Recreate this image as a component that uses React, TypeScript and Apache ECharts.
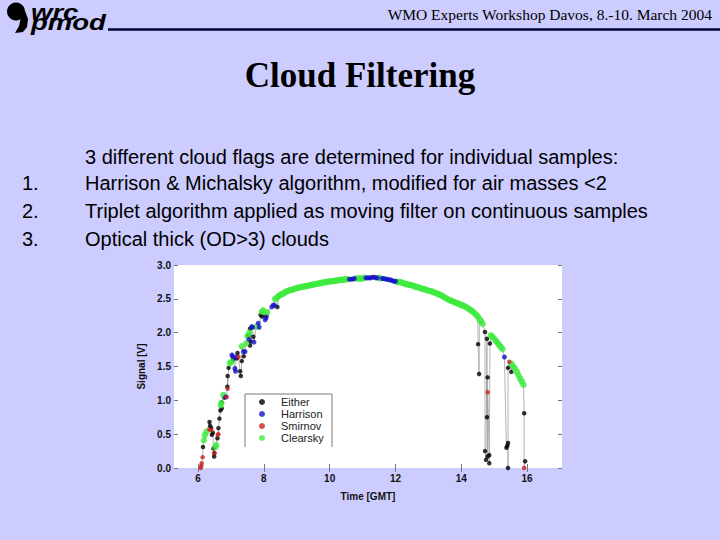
import React, { useEffect, useRef } from "react";
import * as echarts from "echarts";

// ---- data ----
const xTicks = [6, 8, 10, 12, 14, 16];
const yTicks = [0, 0.5, 1.0, 1.5, 2.0, 2.5, 3.0];
const X_MIN = 5.27;
const X_MAX = 17.06;
const legendNames = ["Either", "Harrison", "Smirnov", "Clearsky"];

const either: number[][] = [
  [6.15, 0.31], [6.35, 0.68], [6.37, 0.62], [6.4, 0.59], [6.42, 0.49], [6.45, 0.52], [6.47, 0.29],
  [6.49, 0.17], [6.5, 0.22], [6.59, 0.44], [6.62, 0.59], [6.65, 0.73], [6.68, 0.85], [6.72, 0.88],
  [6.72, 0.97], [6.8, 1.04], [6.89, 1.2], [6.9, 1.36], [6.93, 1.48], [7.07, 1.6], [7.18, 1.62],
  [7.2, 1.7], [7.28, 1.43], [7.3, 1.36], [7.33, 1.58], [7.39, 1.65], [7.53, 1.96], [7.58, 1.81],
  [7.6, 1.87], [7.58, 2.06], [7.68, 1.94], [7.9, 2.26], [7.95, 2.24], [8.08, 2.25], [8.41, 2.38],
  [14.51, 1.83], [14.54, 1.39], [14.72, 2.01], [14.78, 1.91], [14.87, 1.84], [14.8, 1.34],
  [14.78, 0.75], [14.72, 0.25], [14.85, 0.19], [14.75, 0.12], [14.85, 0.07], [14.8, 0.17],
  [15.37, 0.3], [15.4, 0.33], [15.42, 0.37], [15.42, 0.0], [15.42, 1.48], [15.52, 1.42],
  [15.91, 0.81], [15.94, 0.1],
];

const harrison: number[][] = [
  [6.84, 1.05], [7.03, 1.67], [7.05, 1.65], [7.12, 1.47], [7.14, 1.43], [7.16, 1.64], [7.38, 1.72],
  [7.43, 1.72], [7.55, 1.9], [7.63, 2.09], [7.66, 2.08], [7.7, 1.86], [7.83, 2.14], [7.86, 2.08],
  [8.04, 2.19], [8.07, 2.22], [8.24, 2.38], [8.29, 2.41], [8.33, 2.4],
  [10.6, 2.79], [10.65, 2.79], [10.7, 2.79], [10.75, 2.8], [11.1, 2.81], [11.15, 2.81], [11.2, 2.81],
  [11.25, 2.81], [11.3, 2.82], [11.35, 2.82], [11.4, 2.81], [11.45, 2.81], [11.6, 2.8], [11.65, 2.8],
  [11.7, 2.79], [11.75, 2.79], [11.8, 2.78], [11.85, 2.78], [11.9, 2.77], [11.95, 2.76], [12.0, 2.76],
  [15.31, 1.64],
];

const smirnov: number[][] = [
  [6.08, 0.0], [6.1, 0.03], [6.11, 0.07], [6.14, 0.16], [6.35, 0.57], [6.4, 0.56], [6.49, 0.22],
  [6.6, 0.49], [6.62, 0.5], [6.87, 1.05], [6.9, 1.17], [7.23, 1.64], [14.8, 1.12], [15.46, 1.57],
  [15.91, 0.0],
];

const clearsky: number[][] = [
  [6.18, 0.41], [6.21, 0.49], [6.26, 0.54], [6.53, 0.31], [6.55, 0.34], [6.69, 0.93], [6.71, 0.96],
  [6.77, 1.08], [6.97, 1.55], [7.02, 1.57], [7.33, 1.8], [7.46, 1.84], [7.5, 1.95], [7.56, 2.0],
  [7.77, 2.09], [7.94, 2.31], [7.98, 2.33], [8.1, 2.3], [8.34, 2.5],
  [8.4, 2.52], [8.45, 2.54], [8.5, 2.56], [8.55, 2.57], [8.6, 2.58], [8.65, 2.6], [8.7, 2.61],
  [8.75, 2.62], [8.8, 2.63], [8.85, 2.635], [8.9, 2.64], [8.95, 2.65],
  [9.0, 2.66], [9.05, 2.665], [9.1, 2.67], [9.15, 2.675], [9.2, 2.68], [9.25, 2.685], [9.3, 2.69],
  [9.35, 2.695], [9.4, 2.7], [9.45, 2.705], [9.5, 2.71], [9.55, 2.715], [9.6, 2.72], [9.65, 2.725],
  [9.7, 2.73], [9.75, 2.735], [9.8, 2.74], [9.85, 2.745], [9.9, 2.75], [9.95, 2.755], [10.0, 2.76],
  [10.05, 2.76], [10.1, 2.76], [10.15, 2.765], [10.2, 2.77], [10.25, 2.775], [10.3, 2.78],
  [10.35, 2.78], [10.4, 2.78], [10.45, 2.785], [10.5, 2.79], [10.55, 2.79],
  [10.8, 2.8], [10.85, 2.8], [10.9, 2.8], [10.95, 2.8], [11.0, 2.8], [11.05, 2.81], [11.5, 2.81],
  [11.55, 2.8],
  [12.05, 2.75], [12.1, 2.75], [12.15, 2.745], [12.2, 2.74], [12.25, 2.73], [12.3, 2.72],
  [12.35, 2.715], [12.4, 2.71], [12.45, 2.705], [12.5, 2.7], [12.55, 2.69], [12.6, 2.68],
  [12.65, 2.675], [12.7, 2.67], [12.75, 2.66], [12.8, 2.65], [12.85, 2.645], [12.9, 2.64],
  [12.95, 2.63], [13.0, 2.62], [13.05, 2.615], [13.1, 2.61], [13.15, 2.6], [13.2, 2.59],
  [13.25, 2.58], [13.3, 2.57], [13.35, 2.56], [13.4, 2.55], [13.45, 2.535], [13.5, 2.52],
  [13.55, 2.505], [13.6, 2.49], [13.65, 2.48], [13.7, 2.47], [13.75, 2.46], [13.8, 2.45],
  [13.85, 2.44], [13.9, 2.43], [13.95, 2.42], [14.0, 2.41], [14.05, 2.4], [14.1, 2.39],
  [14.15, 2.375], [14.2, 2.36], [14.25, 2.345], [14.3, 2.33], [14.35, 2.31], [14.4, 2.29],
  [14.45, 2.265], [14.5, 2.24], [14.55, 2.2], [14.6, 2.17], [14.65, 2.13],
  [14.9, 1.96], [14.95, 1.94], [15.0, 1.91], [15.05, 1.88], [15.1, 1.85], [15.15, 1.82], [15.2, 1.79],
  [15.25, 1.76],
  [15.53, 1.54], [15.58, 1.5], [15.63, 1.47], [15.69, 1.42], [15.74, 1.37], [15.79, 1.32],
  [15.84, 1.28], [15.89, 1.23],
];

const bodyIntro = "3 different cloud flags are determined for individual samples:";
const bodyItems = [
  "Harrison & Michalsky algorithm, modified for air masses <2",
  "Triplet algorithm applied as moving filter on continuous samples",
  "Optical thick (OD>3) clouds",
];

const BG = "#CCCCFF";
const SANS = "'Liberation Sans', Arial, sans-serif";
const SERIF = "'Liberation Serif', 'Times New Roman', serif";

export default function App() {
  const ref = useRef<HTMLDivElement>(null);

  useEffect(() => {
    document.body.style.margin = "0";
    if (!ref.current) return;
    const chart = echarts.init(ref.current, undefined, { renderer: "svg" });

    const allPoints = [...either, ...harrison, ...smirnov, ...clearsky]
      .slice()
      .sort((a, b) => a[0] - b[0]);

    const bodyY = [183, 211, 239];

    const graphic: any[] = [
      // logo
      { type: "circle", shape: { cx: 16, cy: 11.5, r: 9 }, style: { fill: "#000" } },
      {
        type: "polygon",
        shape: { points: [[21, 17], [25, 11], [28, 19], [27, 27], [23, 32], [15, 33], [19, 26]] },
        style: { fill: "#000" },
      },
      {
        type: "text",
        x: 31, y: 6.75, scaleX: 1.25, scaleY: 1,
        style: {
          text: "wrc\npmod", x: 0, y: 0, verticalAlign: "top",
          font: `italic bold 22px ${SANS}`, lineHeight: 10.5, fill: "#000",
        },
      },
      { type: "line", shape: { x1: 108, y1: 29.5, x2: 720, y2: 29.5 }, style: { stroke: "#000033", lineWidth: 2.5 } },
      {
        type: "text",
        style: {
          text: "WMO Experts Workshop Davos, 8.-10. March 2004",
          x: 712, y: 14, align: "right", verticalAlign: "middle",
          font: `15.5px ${SERIF}`, fill: "#000",
        },
      },
      {
        type: "text",
        style: {
          text: "Cloud Filtering", x: 360, y: 75, align: "center", verticalAlign: "middle",
          font: `bold 35px ${SERIF}`, fill: "#000",
        },
      },
      {
        type: "text",
        style: { text: bodyIntro, x: 85, y: 157, verticalAlign: "middle", font: `20px ${SANS}`, fill: "#000" },
      },
      ...bodyItems.flatMap((t, i) => [
        {
          type: "text",
          style: { text: `${i + 1}.`, x: 22, y: bodyY[i], verticalAlign: "middle", font: `20px ${SANS}`, fill: "#000" },
        },
        {
          type: "text",
          style: { text: t, x: 85, y: bodyY[i], verticalAlign: "middle", font: `20px ${SANS}`, fill: "#000" },
        },
      ]),
      // legend frame (open at bottom as in the reference)
      {
        type: "polyline",
        shape: { points: [[245, 447], [245, 394], [332, 394], [332, 447]] },
        style: { stroke: "#7a7a7a", lineWidth: 1, fill: null },
        z: 10,
      },
    ];

    const tickStyle = { inside: true, length: 4, lineStyle: { color: "#777", width: 1 } };
    const labelFont = { fontFamily: SANS, fontWeight: "bold", fontSize: 10, color: "#111" };

    chart.setOption({
      animation: false,
      backgroundColor: BG,
      graphic,
      grid: {
        left: 174, top: 265, width: 388, height: 203,
        show: true, backgroundColor: "#ffffff", borderWidth: 0,
      },
      xAxis: [
        {
          type: "value", min: X_MIN, max: X_MAX, position: "bottom",
          name: "Time [GMT]", nameLocation: "middle", nameGap: 23,
          nameTextStyle: labelFont,
          axisLine: { show: false },
          axisTick: { ...tickStyle, customValues: xTicks },
          splitLine: { show: false },
          axisLabel: {
            ...labelFont, margin: 5, customValues: xTicks,
            formatter: (v: number) => (xTicks.includes(Math.round(v * 100) / 100) ? String(Math.round(v)) : ""),
          },
        },
        {
          type: "value", min: X_MIN, max: X_MAX, position: "top",
          axisLine: { show: false },
          axisTick: { ...tickStyle, customValues: xTicks },
          axisLabel: { show: false },
          splitLine: { show: false },
        },
      ],
      yAxis: [
        {
          type: "value", min: 0, max: 3, interval: 0.5,
          name: "Signal [V]", nameLocation: "middle", nameGap: 25, nameRotate: 90,
          nameTextStyle: labelFont,
          axisLine: { show: false },
          axisTick: { ...tickStyle, customValues: yTicks },
          splitLine: { show: false },
          axisLabel: { ...labelFont, margin: 3, customValues: yTicks, formatter: (v: number) => v.toFixed(1) },
        },
        {
          type: "value", min: 0, max: 3, interval: 0.5, position: "right",
          axisLine: { show: false },
          axisTick: { ...tickStyle, customValues: yTicks },
          axisLabel: { show: false },
          splitLine: { show: false },
        },
      ],
      legend: {
        data: legendNames,
        orient: "vertical",
        left: 259, top: 396,
        itemWidth: 6, itemHeight: 6, itemGap: 0,
        padding: 0,
        textStyle: { fontFamily: SANS, fontSize: 11, color: "#222", lineHeight: 12, padding: [0, 0, 0, 11] },
      },
      series: [
        {
          name: "signal", type: "line", data: allPoints, showSymbol: false, symbol: "none",
          lineStyle: { color: "#a2a2a2", width: 0.8 }, silent: true, z: 1,
        },
        {
          name: "Either", type: "scatter", data: either, symbol: "circle", symbolSize: 4.5,
          itemStyle: { color: "#000000" }, z: 2,
        },
        {
          name: "Harrison", type: "scatter", data: harrison, symbol: "circle", symbolSize: 5,
          itemStyle: { color: "#1414C8" }, z: 3,
        },
        {
          name: "Smirnov", type: "scatter", data: smirnov, symbol: "circle", symbolSize: 4.5,
          itemStyle: { color: "#CC2222" }, z: 4,
        },
        {
          name: "Clearsky", type: "scatter", data: clearsky, symbol: "circle", symbolSize: 6.5,
          itemStyle: { color: "#3EEA3E" }, z: 2.5,
        },
      ],
    });

    return () => chart.dispose();
  }, []);

  return <div ref={ref} style={{ position: "absolute", left: 0, top: 0, width: 720, height: 540 }} />;
}
